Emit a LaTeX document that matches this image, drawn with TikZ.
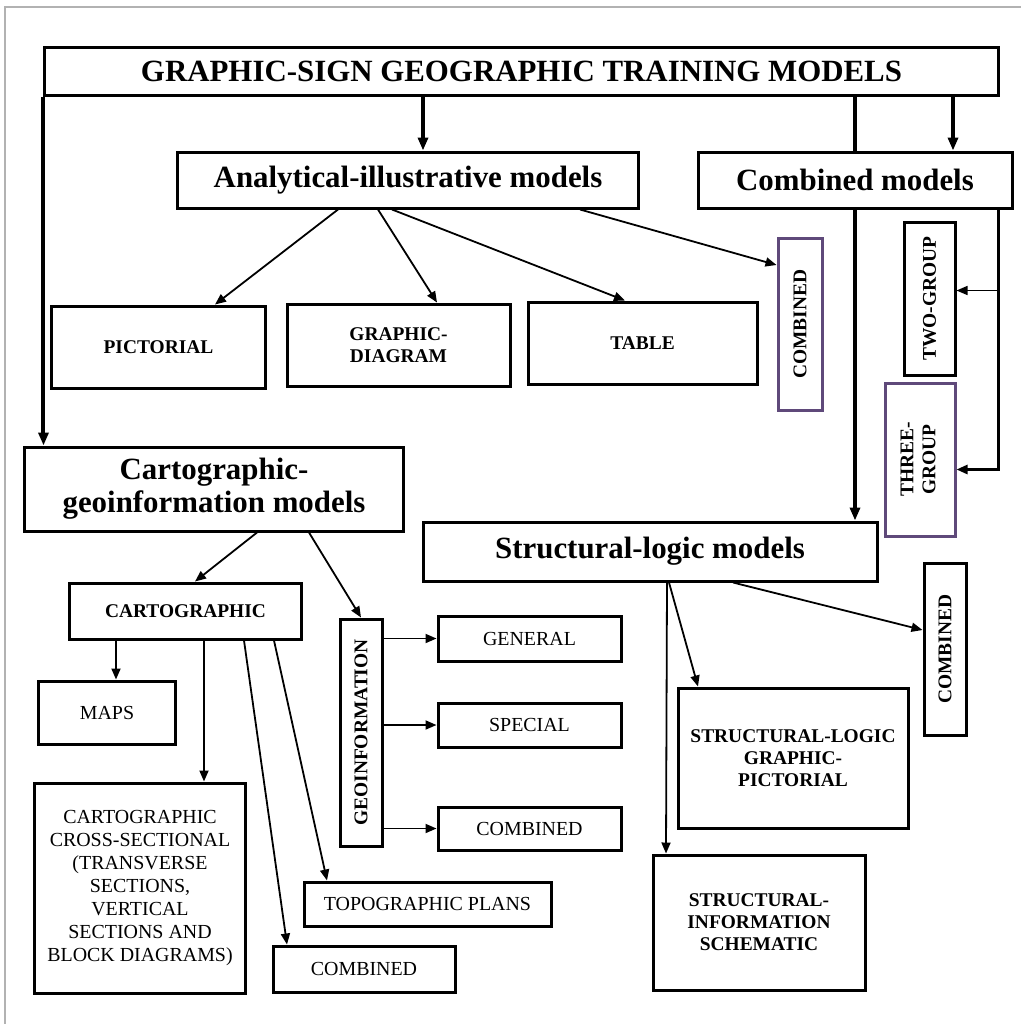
\documentclass[tikz,border=0pt]{standalone}
\usepackage{fontspec}
\setmainfont{Liberation Serif}
\usepackage{tikz}
\usetikzlibrary{arrows.meta,positioning}

\definecolor{boxpurple}{RGB}{95,73,122}

\begin{document}
\begin{tikzpicture}[
  x=1bp, y=-1bp,
  head/.style={draw, line width=3bp, inner sep=0pt, align=center, font=\fontsize{31}{33}\selectfont\bfseries},
  labbox/.style={draw, line width=3bp, inner sep=0pt, align=center, font=\fontsize{19.5}{22}\selectfont\bfseries},
  plainbox/.style={draw, line width=3bp, inner sep=0pt, align=center, font=\fontsize{20}{23}\selectfont},
  purplebox/.style={labbox, draw=boxpurple},
  arr/.style={-{Triangle[length=11bp,width=9bp]}, line width=1.8bp},
  thickarr/.style={-{Triangle[length=13bp,width=10bp]}, line width=4bp}
]
\useasboundingbox (0,0) rectangle (1021,1024);
\draw[gray!60, line width=1.2bp] (5,1024) -- (5,7) -- (1021,7);

% top level
\node[head, minimum width=953bp, minimum height=48bp] (title) at (521.5,71) {GRAPHIC-SIGN GEOGRAPHIC TRAINING MODELS};
\node[head, minimum width=460bp, minimum height=56bp] (anal) at (408,180) {Analytical-illustrative models};
\node[head, minimum width=314bp, minimum height=56bp] (comb) at (855,180) {Combined models};
\node[head, minimum width=378bp, minimum height=84bp] (cartgeo) at (214,489) {Cartographic-\\geoinformation models};
\node[head, minimum width=454bp, minimum height=59bp] (struct) at (650,551.5) {Structural-logic models};

% analytical-illustrative
\node[labbox, minimum width=213bp, minimum height=82bp] (pict) at (158.5,347) {PICTORIAL};
\node[labbox, minimum width=223bp, minimum height=82bp] (gdiag) at (398.5,345) {GRAPHIC-\\DIAGRAM};
\node[labbox, minimum width=229bp, minimum height=82bp] (table) at (642.5,343) {TABLE};
\node[purplebox, minimum width=44bp, minimum height=172bp] (combA) at (800,324) {\rotatebox{90}{COMBINED}};

% combined
\node[labbox, minimum width=51bp, minimum height=153bp] (twogr) at (929.5,298.5) {\rotatebox{90}{TWO-GROUP}};
\node[purplebox, minimum width=70bp, minimum height=153bp] (threegr) at (920,459.5) {\rotatebox{90}{\begin{tabular}{@{}c@{}}THREE-\\GROUP\end{tabular}}};

% cartographic-geoinformation
\node[labbox, minimum width=231bp, minimum height=56bp] (carto) at (185.5,611) {CARTOGRAPHIC};
\node[labbox, minimum width=42bp, minimum height=227bp] (geo) at (361,732.5) {\rotatebox{90}{GEOINFORMATION}};
\node[plainbox, minimum width=183bp, minimum height=45bp] (general) at (529.5,638.5) {GENERAL};
\node[plainbox, minimum width=183bp, minimum height=44bp] (special) at (529.5,725) {SPECIAL};
\node[plainbox, minimum width=183bp, minimum height=43bp] (combG) at (529.5,828.5) {COMBINED};
\node[plainbox, minimum width=136bp, minimum height=63bp] (maps) at (107,712.5) {MAPS};
\node[plainbox, minimum width=210bp, minimum height=210bp] (cross) at (140,888) {CARTOGRAPHIC\\CROSS-SECTIONAL\\(TRANSVERSE\\SECTIONS,\\VERTICAL\\SECTIONS AND\\BLOCK DIAGRAMS)};
\node[plainbox, minimum width=247bp, minimum height=44bp] (topo) at (427.5,904) {TOPOGRAPHIC PLANS};
\node[plainbox, minimum width=182bp, minimum height=46bp] (combC) at (364,969) {COMBINED};

% structural-logic
\node[labbox, minimum width=42bp, minimum height=172bp] (combS) at (945,649) {\rotatebox{90}{COMBINED}};
\node[labbox, minimum width=230bp, minimum height=140bp] (slgp) at (793,758) {STRUCTURAL-LOGIC\\GRAPHIC-\\PICTORIAL};
\node[labbox, minimum width=212bp, minimum height=135bp] (sis) at (759,922.5) {STRUCTURAL-\\INFORMATION\\SCHEMATIC};

% from the title
\draw[thickarr] (title.south west) -- (title.south west |- cartgeo.north);
\draw[thickarr] ([xshift=15bp]anal.north |- title.south) -- ([xshift=15bp]anal.north);
\draw[line width=4bp] (title.south -| comb.north) -- (comb.north);
\draw[thickarr] (comb.south) -- (comb.south |- struct.north);
\draw[thickarr] ([xshift=98bp]comb.north |- title.south) -- ([xshift=98bp]comb.north);

% analytical-illustrative branches
\draw[arr] ([xshift=-70bp]anal.south) -- ([xshift=56.5bp]pict.north);
\draw[arr] ([xshift=-30bp]anal.south) -- ([xshift=38.5bp]gdiag.north);
\draw[arr] ([xshift=-16bp]anal.south) -- ([xshift=-17.5bp]table.north);
\draw[arr] ([xshift=172bp]anal.south) -- ([yshift=59bp]combA.west);

% combined branches
\coordinate (rt) at ([xshift=-15bp]comb.south east);
\coordinate (tw) at ([yshift=8bp]twogr.east);
\coordinate (th) at ([yshift=-10bp]threegr.east);
\draw[arr, line width=2.6bp] (rt) |- (th);
\draw[arr, line width=1.4bp] (rt |- tw) -- (tw);

% cartographic-geoinformation branches
\draw[arr] ([xshift=43bp]cartgeo.south) -- ([xshift=9.5bp]carto.north);
\draw[arr] ([xshift=95bp]cartgeo.south) -- (geo.north);
\draw[arr] ([xshift=-69.5bp]carto.south) -- ([xshift=-69.5bp]carto.south |- maps.north);
\draw[arr] ([xshift=18.5bp]carto.south) -- ([xshift=18.5bp]carto.south |- cross.north);
\draw[arr] ([xshift=58.5bp]carto.south) -- ([xshift=-77bp]combC.north);
\draw[arr] ([xshift=88.5bp]carto.south) -- ([xshift=-100.5bp]topo.north);
\draw[arr] (geo.east |- general.west) -- (general.west);
\draw[arr] (geo.east |- special.west) -- (special.west);
\draw[arr] (geo.east |- combG.west) -- (combG.west);

% structural-logic branches
\draw[arr] ([xshift=19bp]struct.south) -- ([xshift=-95bp]slgp.north);
\draw[arr] ([xshift=17bp]struct.south) -- ([xshift=-93bp]sis.north);
\draw[arr] ([xshift=83bp]struct.south) -- ([yshift=19bp]combS.west);
\end{tikzpicture}
\end{document}
